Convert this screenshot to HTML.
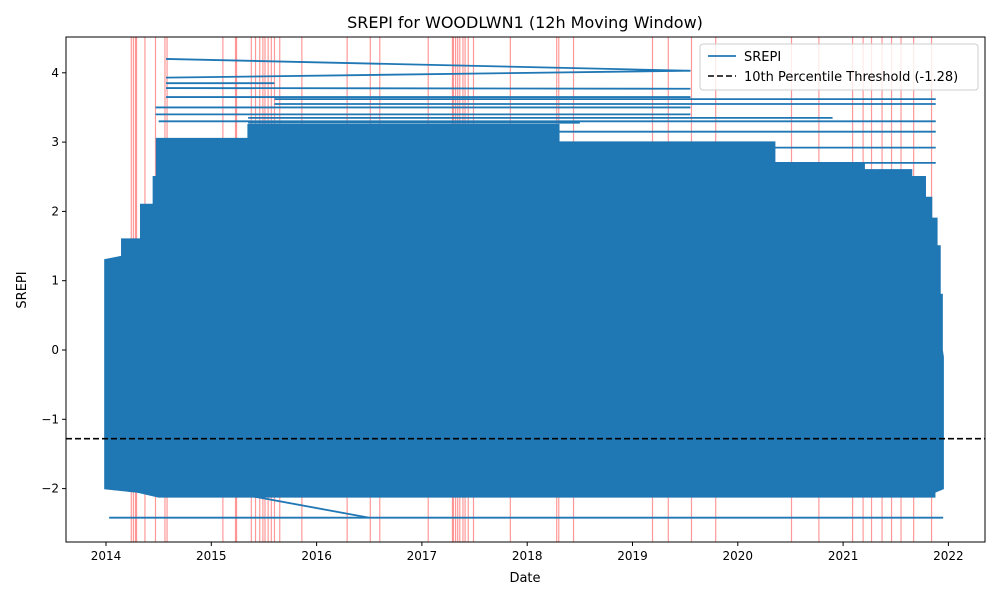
<!DOCTYPE html>
<html><head><meta charset="utf-8"><style>
body{margin:0;background:#fff;font-family:"Liberation Sans","DejaVu Sans",sans-serif}
svg text{font-family:"DejaVu Sans","Liberation Sans",sans-serif}
</style></head><body>
<svg id="chart" width="1000" height="600" xmlns="http://www.w3.org/2000/svg">
<rect width="1000" height="600" fill="#fff"/>
<text x="525" y="28" font-size="16" text-anchor="middle">SREPI for WOODLWN1 (12h Moving Window)</text>
<text x="525" y="582" font-size="13" text-anchor="middle">Date</text>
<text transform="translate(26,290) rotate(-90)" font-size="13" text-anchor="middle">SREPI</text>
<g id="plot"></g>
</svg>
<script>
const xTicks=[2014,2015,2016,2017,2018,2019,2020,2021,2022];
const yTicks=[4,3,2,1,0,-1,-2];
const anomalyDates=[2014.24,2014.26,2014.28,2014.29,2014.37,2014.47,2014.56,2014.58,2015.11,2015.23,2015.24,2015.38,2015.42,2015.46,2015.49,2015.51,2015.54,2015.57,2015.60,2015.65,2015.86,2016.29,2016.51,2016.60,2017.06,2017.29,2017.30,2017.32,2017.34,2017.36,2017.39,2017.41,2017.44,2017.49,2017.84,2018.28,2018.30,2018.44,2019.19,2019.34,2019.56,2019.79,2020.51,2020.77,2021.09,2021.19,2021.27,2021.37,2021.46,2021.55,2021.67,2021.84];
const upperYears=[2013.99,2014.15,2014.15,2014.33,2014.33,2014.45,2014.45,2014.48,2014.48,2015.35,2015.35,2018.3,2018.3,2020.35,2020.35,2021.2,2021.2,2021.65,2021.65,2021.78,2021.78,2021.84,2021.84,2021.89,2021.89,2021.92,2021.92,2021.94,2021.94,2021.95];
const upperVals=[1.3,1.35,1.6,1.6,2.1,2.1,2.5,2.5,3.05,3.05,3.25,3.25,3.0,3.0,2.7,2.7,2.6,2.6,2.5,2.5,2.2,2.2,1.9,1.9,1.5,1.5,0.8,0.8,0.0,-0.1];
const lowerYears=[2021.95,2021.87,2021.87,2014.5,2014.3,2013.99];
const lowerVals=[-2.0,-2.05,-2.12,-2.12,-2.05,-2.0];
const segStart=[2014.57,2014.57,2014.57,2014.57,2014.57,2014.47,2014.47,2015.6,2015.6,2014.5,2015.35,2015.5,2014.5,2014.5,2015.35,2015.35,2014.03];
const segEnd=[2019.55,2019.55,2015.6,2019.55,2019.55,2019.55,2019.55,2021.88,2021.88,2021.88,2020.9,2021.88,2021.88,2021.88,2018.5,2016.5,2021.95];
const segV0=[4.2,3.93,3.85,3.78,3.65,3.5,3.4,3.62,3.55,3.3,3.35,3.15,2.92,2.7,3.28,-2.1,-2.42];
const segV1=[4.03,4.03,3.85,3.77,3.65,3.5,3.4,3.62,3.55,3.3,3.35,3.15,2.92,2.7,3.28,-2.42,-2.42];
const threshold=-1.28;
const L=66,R=985,T=37,B=542;
const X=yr=>106+(yr-2014)*105.3;
const Y=v=>350-v*69.3;
const NS="http://www.w3.org/2000/svg";
const g=document.getElementById('plot');
function mk(tag,attrs){const e=document.createElementNS(NS,tag);for(const k in attrs)e.setAttribute(k,attrs[k]);g.appendChild(e);return e;}
anomalyDates.forEach(d=>{
 const e=mk('line',{x1:X(d),x2:X(d),y1:T,y2:B,stroke:'#ff0000','stroke-opacity':0.4,'stroke-width':1.2});
 
 
});
let pts=[];
upperYears.forEach((y,i)=>pts.push(X(y)+','+Y(upperVals[i])));
lowerYears.forEach((y,i)=>pts.push(X(y)+','+Y(lowerVals[i])));
const poly=mk('polygon',{points:pts.join(' '),fill:'#1f77b4',stroke:'#1f77b4','stroke-width':1.5});


segStart.forEach((s,i)=>{
 const e=mk('line',{x1:X(s),x2:X(segEnd[i]),y1:Y(segV0[i]),y2:Y(segV1[i]),stroke:'#1f77b4','stroke-width':1.8});
 
 
});
const th=mk('line',{x1:L,x2:R,y1:Y(threshold),y2:Y(threshold),stroke:'#000','stroke-width':1.6,'stroke-dasharray':'6,3'});


const fr=mk('rect',{x:L,y:T,width:R-L,height:B-T,fill:'none',stroke:'#000','stroke-width':1});


xTicks.forEach(t=>{
 const l=mk('line',{x1:X(t),x2:X(t),y1:B,y2:B+4,stroke:'#000'});
 
 
 const tx=mk('text',{x:X(t),y:B+18,'font-size':12,'text-anchor':'middle'});
 tx.textContent=t;
 
 
});
yTicks.forEach(t=>{
 const l=mk('line',{x1:L-4,x2:L,y1:Y(t),y2:Y(t),stroke:'#000'});
 
 
 const tx=mk('text',{x:L-7,y:Y(t)+4,'font-size':12,'text-anchor':'end'});
 tx.textContent=t<0?'\u2212'+(-t):t;
 
 
});
const lg=mk('rect',{x:700,y:44,width:278,height:46,fill:'#fff','fill-opacity':0.8,stroke:'#ccc',rx:3});


const l1=mk('line',{x1:708,x2:736,y1:56,y2:56,stroke:'#1f77b4','stroke-width':1.8});


const t1=mk('text',{x:744,y:61,'font-size':13});t1.textContent='SREPI';


const l2=mk('line',{x1:708,x2:736,y1:76,y2:76,stroke:'#000','stroke-width':1.6,'stroke-dasharray':'6,3'});


const t2=mk('text',{x:744,y:81,'font-size':13});t2.textContent='10th Percentile Threshold (-1.28)';


</script>
</body></html>
